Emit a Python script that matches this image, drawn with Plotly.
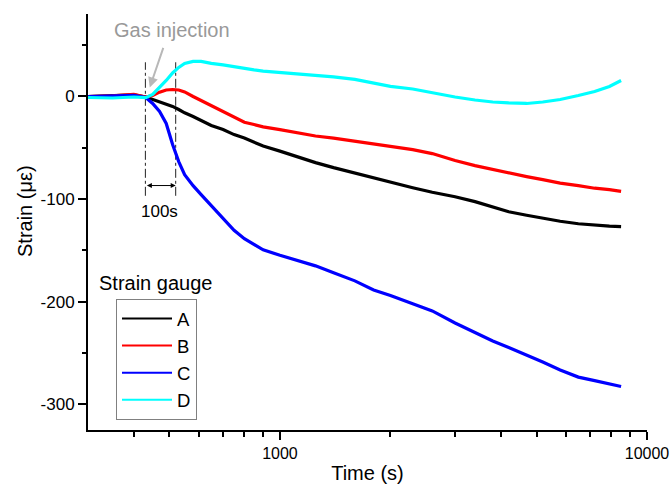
import numpy as np
import plotly.graph_objects as go

# Time grid (s)
time_s = [300, 350, 400, 431, 450, 470, 490, 510, 530, 550, 580, 610, 650, 700, 750,
          800, 850, 900, 1000, 1100, 1250, 1400, 1600, 1800, 2000, 2300, 2600, 3000,
          3400, 3800, 4200, 4700, 5200, 5800, 6500, 7200, 7900, 8500]

strain_A = [-0.3, 0.2, 1.2, -0.8, -3.2, -5.2, -7.6, -10, -13, -16.2, -19.8, -23.7, -28.6,
            -32.5, -37.4, -40.8, -44.7, -48.6, -53.5, -58.3, -64.7, -69.6, -74.9, -79.8,
            -84.2, -89.1, -93.5, -97.9, -102.7, -108.1, -112.5, -115.9, -118.8, -121.8,
            -124.2, -125.7, -126.6, -127.1]
strain_B = [-0.3, 0.2, 1.7, -0.8, 0.7, 3.9, 6, 6.5, 6, 4.1, -0.3, -4.2, -9.1, -14.9,
            -19.8, -25.4, -27.6, -29.9, -32.5, -35.4, -38.8, -40.8, -43.7, -46.6, -49.1,
            -52, -55.9, -62.7, -67.6, -71.5, -74.9, -78.3, -81.3, -84.7, -87.1, -89.6,
            -91, -92.7]
strain_C = [-0.3, 0.2, 0.7, -1.3, -7.1, -14.9, -26.6, -47.1, -63.7, -76.4, -87.1, -95.9,
            -106.6, -119, -130.5, -138.8, -144.7, -149.6, -154.9, -159.3, -165.2, -172,
            -179.8, -188.6, -194, -202.2, -209.1, -220.8, -230.5, -238.3, -244.7, -252,
            -258.8, -266.6, -273.5, -276.9, -280.3, -282.7]
strain_D = [-1.3, -1.8, -0.8, -1.5, 1.7, 8.5, 15.3, 22.6, 28, 31.9, 33.9, 33.9, 31.9,
            30.4, 28.5, 27, 25.6, 24.4, 23.1, 21.7, 20.2, 18.7, 16.3, 12.4, 9.5, 7, 3.1,
            -0.8, -3.7, -5.7, -6.6, -7.1, -5.7, -3.2, 0.7, 4.6, 9.5, 15.3]

gauge_names = ["A", "B", "C", "D"]
gauge_colors = ["#000000", "#ff0000", "#0000ff", "#00ffff"]

inj_start = 430
inj_end = 520
marker_ymin, marker_ymax = -97, 33

x_major = [1000, 10000]
x_major_text = ["1000", "10000"]
x_minor = [400, 500, 600, 700, 800, 900, 2000, 3000, 4000, 5000, 6000, 7000, 8000, 9000]
y_major = [-300, -200, -100, 0]
y_major_text = ["-300", "-200", "-100", "0"]
y_minor = [-250, -150, -50, 50]

FONT = "Arial, Liberation Sans, sans-serif"

W, H = 670, 484
plot_l, plot_r, plot_t, plot_b = 88, 647, 14, 430


def px_to_paper(px, py):
    return (px - plot_l) / (plot_r - plot_l), (plot_b - py) / (plot_b - plot_t)


fig = go.Figure()

# vertical dash-dot markers
for t in [inj_start, inj_end]:
    fig.add_trace(go.Scatter(x=[t, t], y=[marker_ymin, marker_ymax], mode="lines",
                             line=dict(color="#222222", width=1, dash="dashdot"),
                             showlegend=False, hoverinfo="skip"))

series = [strain_A, strain_B, strain_C, strain_D]
for name, col, ys in zip(gauge_names, gauge_colors, series):
    fig.add_trace(go.Scatter(x=time_s, y=ys, mode="lines", name=name,
                             line=dict(color=col, width=3.2), showlegend=False))
for name, col in zip(gauge_names, gauge_colors):
    fig.add_trace(go.Scatter(x=[None], y=[None], mode="lines", name=name,
                             line=dict(color=col, width=2)))

# 100 s double arrow
fig.add_annotation(x=np.log10(inj_end), y=-87, ax=np.log10(inj_start), ay=-87,
                   xref="x", yref="y", axref="x", ayref="y", text="",
                   showarrow=True, arrowhead=2, startarrowhead=2, arrowside="end+start",
                   arrowsize=1, arrowwidth=1, arrowcolor="#000000")
fig.add_annotation(x=np.log10(471), y=-112.5, xref="x", yref="y", text="100s",
                   showarrow=False, font=dict(size=17, color="#000000", family=FONT))

# Gas injection label + arrow
fig.add_annotation(x=np.log10(507), y=64.5, xref="x", yref="y", text="Gas injection",
                   showarrow=False, font=dict(size=20, color="#999999", family=FONT))
fig.add_annotation(x=np.log10(442), y=8.5, xref="x", yref="y", text="",
                   showarrow=True, ax=14, ay=-41, arrowhead=2, arrowsize=1,
                   arrowwidth=2, arrowcolor="#b8b8b8")

# legend title
lx, ly = px_to_paper(97, 283)
fig.add_annotation(x=lx, y=ly, xref="paper", yref="paper", text="Strain gauge",
                   xanchor="left", yanchor="middle", showarrow=False,
                   font=dict(size=20, color="#000000", family=FONT))

# y-axis title
tx, ty = px_to_paper(25, 211)
fig.add_annotation(x=tx, y=ty, xref="paper", yref="paper", text="Strain (με)",
                   textangle=-90, xanchor="center", yanchor="middle", showarrow=False,
                   font=dict(size=20, color="#000000", family=FONT))

legx, legy = px_to_paper(116, 299)
fig.update_layout(
    template="none",
    width=W, height=H,
    margin=dict(l=plot_l, r=W - plot_r, t=plot_t, b=H - plot_b, pad=0),
    paper_bgcolor="white", plot_bgcolor="white",
    font=dict(family=FONT, size=16, color="#000000"),
    showlegend=True,
    legend=dict(x=legx, y=legy, xanchor="left", yanchor="top",
                bordercolor="#808080", borderwidth=1, bgcolor="white",
                font=dict(size=18.5, family=FONT, color="#000000"),
                tracegroupgap=0, itemwidth=50),
    xaxis=dict(type="log", range=[np.log10(300), 4], showgrid=False, zeroline=False,
               automargin=False,
               showline=True, linecolor="black", linewidth=2,
               ticks="outside", ticklen=8, tickwidth=1.5, tickcolor="black",
               tickvals=x_major, ticktext=x_major_text,
               tickfont=dict(size=16, family=FONT, color="#000000"),
               minor=dict(ticks="outside", ticklen=5, tickwidth=1.5, tickcolor="black",
                          tickvals=x_minor, showgrid=False),
               title=dict(text="Time (s)", font=dict(size=20, family=FONT, color="#000000"))),
    yaxis=dict(range=[-325, 80], showgrid=False, zeroline=False,
               automargin=False,
               showline=True, linecolor="black", linewidth=2,
               ticks="outside", ticklen=8, tickwidth=1.5, tickcolor="black",
               tickvals=y_major, ticktext=y_major_text,
               tickfont=dict(size=17, family=FONT, color="#000000"),
               minor=dict(ticks="outside", ticklen=4, tickwidth=1.5, tickcolor="black",
                          tickvals=y_minor, showgrid=False)),
)

fig.write_html("out.html")
